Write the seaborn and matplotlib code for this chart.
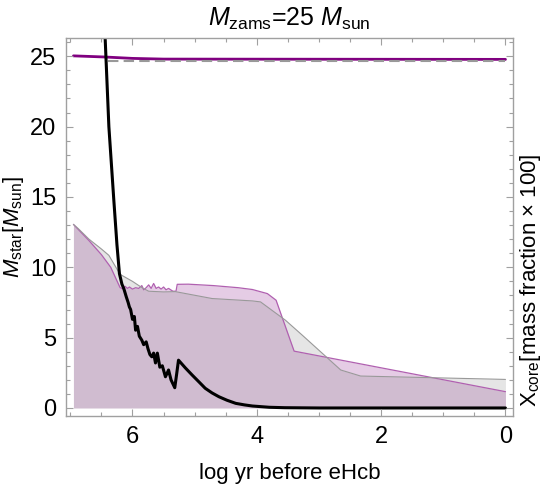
import matplotlib
matplotlib.use("Agg")
import matplotlib.pyplot as plt
import numpy as np
import pandas as pd
import seaborn as sns
from matplotlib.ticker import MultipleLocator

# --- data ---
# black curve
black_x = [6.44, 6.38, 6.30, 6.25, 6.21, 6.17, 6.14, 6.10, 6.07, 6.05, 6.03, 6.00, 5.97,
           5.95, 5.92, 5.89, 5.85, 5.82, 5.78, 5.75, 5.72, 5.69, 5.66, 5.63, 5.60, 5.56,
           5.52, 5.47, 5.44, 5.42, 5.38, 5.32, 5.29, 5.26, 5.15, 5.04, 4.93, 4.83, 4.72,
           4.61, 4.48, 4.34, 4.20, 4.07, 3.80, 3.55, 3.0, 2.0, 1.0, 0.0]
black_y = [26.3, 20.0, 14.75, 11.6, 9.55, 8.8, 8.49, 7.9, 7.5, 7.18, 7.0, 6.3, 6.5,
           5.53, 5.8, 5.1, 4.82, 4.5, 4.7, 4.2, 3.8, 3.64, 3.9, 3.2, 3.9, 2.9,
           3.0, 2.22, 2.5, 2.7, 2.0, 1.44, 2.4, 3.4, 2.85, 2.34, 1.85, 1.40, 1.07,
           0.80, 0.55, 0.33, 0.22, 0.14, 0.05, 0.02, 0.0, 0.0, 0.0, 0.0]

# thick purple line near 25
mass_x = [6.95, 6.45, 6.0, 5.5, 0.0]
mass_y = [25.03, 24.95, 24.85, 24.80, 24.78]

# dashed gray line near 25
ref_x = [6.40, 0.0]
ref_y = [24.66, 24.66]

# gray filled profile
gray_x = [6.95, 6.87, 6.70, 6.50, 6.38, 6.20, 6.00, 5.85, 5.74, 5.50, 5.31,
          4.72, 4.07, 3.94, 3.54, 3.27, 2.65, 2.33, 0.0]
gray_y = [13.05, 12.74, 12.0, 11.3, 10.85, 9.5, 9.0, 8.56, 8.3, 8.25, 8.27,
          7.78, 7.61, 7.54, 6.24, 5.18, 2.70, 2.27, 2.03]

# purple filled profile
purp_x = [6.95, 6.70, 6.50, 6.35, 6.20, 6.15, 6.12, 6.08, 6.05, 6.00, 5.95, 5.90,
          5.85, 5.82, 5.78, 5.74, 5.70, 5.66, 5.62, 5.58, 5.54, 5.50, 5.46, 5.42,
          5.35, 5.30, 5.28, 5.10, 4.70, 4.30, 4.07, 3.83, 3.69, 3.40, 0.0]
purp_y = [13.05, 11.9, 10.9, 10.0, 8.56, 8.45, 8.65, 8.5, 8.6, 8.45, 8.55, 8.5,
          8.7, 8.4, 8.55, 8.75, 8.5, 8.85, 8.5, 8.6, 8.45, 8.6, 8.4, 8.5,
          8.3, 8.3, 8.79, 8.8, 8.7, 8.55, 8.42, 8.13, 7.66, 4.04, 1.16]

XLIM = (7.07, -0.12)
YLIM = (-0.57, 26.3)

sns.set_style("white")
plt.rcParams["font.family"] = ["Liberation Sans", "DejaVu Sans"]
plt.rcParams["mathtext.fontset"] = "custom"
plt.rcParams["mathtext.rm"] = "Liberation Sans"
plt.rcParams["mathtext.it"] = "Liberation Sans:italic"
plt.rcParams["text.color"] = "black"
plt.rcParams["axes.labelcolor"] = "black"

fig = plt.figure(figsize=(5.48, 4.84), dpi=100)
ax = fig.add_axes([0.1204, 0.1405, 0.8156, 0.781])

ax.fill_between(purp_x, 0, purp_y, color="#800080", alpha=0.2, lw=0)
ax.plot(purp_x, purp_y, color="#b060b0", lw=0.9)
ax.fill_between(gray_x, 0, gray_y, color="#808080", alpha=0.2, lw=0)
ax.plot(gray_x, gray_y, color="#999999", lw=0.8)

sns.lineplot(x=mass_x, y=mass_y, ax=ax, color="#800080", lw=2.0,
             sort=False, estimator=None)
sns.lineplot(x=ref_x, y=ref_y, ax=ax, color="#999999", lw=1.5,
             linestyle=(0, (5, 2.5)), sort=False, estimator=None)
sns.lineplot(x=black_x, y=black_y, ax=ax, color="black", lw=2.2,
             sort=False, estimator=None)

ax.set_xlabel("log yr before eHcb", fontsize=16, labelpad=11)
ax.set_ylabel("")
fig.text(14 / 548, 0.531, r"$M_{\rm star}[M_{\rm sun}]$", rotation=90,
         fontsize=16, ha="center", va="center")
ax.set_title(r"$M_{\rm zams}$=25 $M_{\rm sun}$", fontsize=18, pad=9)
fig.text(0.968, 0.42, r"X$_{\rm core}$[mass fraction × 100]", rotation=90,
         fontsize=16, ha="center", va="center")

# frame: labels from the axis, tick marks drawn as short inward segments
ax.xaxis.set_major_locator(MultipleLocator(2))
ax.yaxis.set_major_locator(MultipleLocator(5))
for s in ax.spines.values():
    s.set_color("#a0a0a0")
    s.set_linewidth(1.0)
ax.tick_params(axis="both", which="both", length=0, pad=7,
               labelsize=17, labelcolor="black")

tick_col = "#a0a0a0"
xt = MultipleLocator(0.5).tick_values(0, 7)
xt = [v for v in xt if min(XLIM) <= v <= max(XLIM)]
yt = MultipleLocator(1).tick_values(0, 26)
yt = [v for v in yt if min(YLIM) <= v <= max(YLIM)]
ax_h = 0.781 * 484
ax_w = 0.8156 * 548
for v in xt:
    L = (7 if v % 2 == 0 else 4) / ax_h
    ax.vlines(v, 0, L, transform=ax.get_xaxis_transform(), color=tick_col,
              lw=0.8, clip_on=False, zorder=5)
    ax.vlines(v, 1 - L, 1, transform=ax.get_xaxis_transform(), color=tick_col,
              lw=0.8, clip_on=False, zorder=5)
for v in yt:
    L = (7 if v % 5 == 0 else 4) / ax_w
    ax.hlines(v, 0, L, transform=ax.get_yaxis_transform(), color=tick_col,
              lw=0.8, clip_on=False, zorder=5)
    ax.hlines(v, 1 - L, 1, transform=ax.get_yaxis_transform(), color=tick_col,
              lw=0.8, clip_on=False, zorder=5)

ax.set_xlim(*XLIM)
ax.set_ylim(*YLIM)

fig.savefig("out.png", dpi=100)
